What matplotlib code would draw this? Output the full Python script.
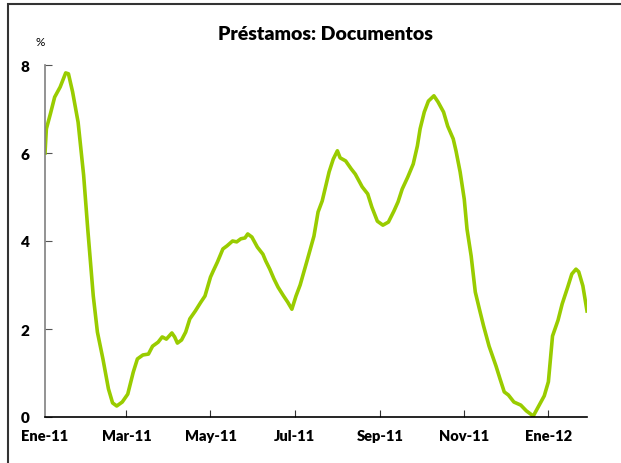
import matplotlib
matplotlib.use("Agg")
import matplotlib.pyplot as plt
import pandas as pd
from matplotlib.patches import Rectangle

fechas = [
    "2011-01-01", "2011-01-02", "2011-01-05", "2011-01-08", "2011-01-12", "2011-01-16",
    "2011-01-18", "2011-01-21", "2011-01-25", "2011-01-29", "2011-02-01", "2011-02-05",
    "2011-02-08", "2011-02-12", "2011-02-16", "2011-02-19", "2011-02-22", "2011-02-26",
    "2011-03-02", "2011-03-06", "2011-03-09", "2011-03-13", "2011-03-17", "2011-03-20",
    "2011-03-24", "2011-03-27", "2011-03-30", "2011-04-03", "2011-04-05", "2011-04-07",
    "2011-04-10", "2011-04-13", "2011-04-16", "2011-04-20", "2011-04-24", "2011-04-27",
    "2011-05-01", "2011-05-03", "2011-05-06", "2011-05-10", "2011-05-13", "2011-05-17",
    "2011-05-20", "2011-05-23", "2011-05-26", "2011-05-28", "2011-05-31", "2011-06-04",
    "2011-06-08", "2011-06-10", "2011-06-13", "2011-06-16", "2011-06-19", "2011-06-23",
    "2011-06-26", "2011-06-29", "2011-07-02", "2011-07-05", "2011-07-10", "2011-07-15",
    "2011-07-18", "2011-07-21", "2011-07-26", "2011-07-29", "2011-08-01", "2011-08-03",
    "2011-08-07", "2011-08-11", "2011-08-14", "2011-08-19", "2011-08-23", "2011-08-26",
    "2011-08-30", "2011-09-03", "2011-09-07", "2011-09-11", "2011-09-14", "2011-09-17",
    "2011-09-21", "2011-09-25", "2011-09-28", "2011-09-30", "2011-10-03", "2011-10-06",
    "2011-10-10", "2011-10-13", "2011-10-17", "2011-10-20", "2011-10-24", "2011-10-26",
    "2011-10-29", "2011-11-01", "2011-11-03", "2011-11-06", "2011-11-09", "2011-11-12",
    "2011-11-15", "2011-11-19", "2011-11-24", "2011-11-27", "2011-11-30", "2011-12-03",
    "2011-12-07", "2011-12-12", "2011-12-16", "2011-12-19", "2011-12-21", "2011-12-25",
    "2011-12-29", "2012-01-01", "2012-01-04", "2012-01-08", "2012-01-11", "2012-01-15",
    "2012-01-18", "2012-01-21", "2012-01-23", "2012-01-26", "2012-01-29",
]
valores = [
    6.0, 6.55, 6.9, 7.27, 7.5, 7.82,
    7.8, 7.39, 6.7, 5.5, 4.27, 2.75,
    1.93, 1.32, 0.64, 0.32, 0.25, 0.34,
    0.52, 1.02, 1.32, 1.41, 1.43, 1.61,
    1.70, 1.82, 1.77, 1.91, 1.82, 1.68,
    1.75, 1.93, 2.23, 2.41, 2.61, 2.75,
    3.18, 3.32, 3.52, 3.82, 3.89, 4.0,
    3.98, 4.05, 4.07, 4.16, 4.09, 3.86,
    3.7, 3.55, 3.36, 3.14, 2.95, 2.75,
    2.61, 2.45, 2.75, 3.0, 3.55, 4.11,
    4.66, 4.91, 5.57, 5.86, 6.05, 5.89,
    5.82, 5.64, 5.52, 5.23, 5.07, 4.77,
    4.45, 4.36, 4.43, 4.68, 4.89, 5.18,
    5.45, 5.75, 6.16, 6.55, 6.93, 7.18,
    7.3, 7.16, 6.93, 6.61, 6.32, 6.05,
    5.57, 4.95, 4.27, 3.66, 2.84, 2.45,
    2.07, 1.61, 1.16, 0.86, 0.57, 0.5,
    0.34, 0.27, 0.14, 0.07, 0.02, 0.25,
    0.48, 0.8, 1.84, 2.2, 2.57, 2.95,
    3.25, 3.36, 3.3, 2.98, 2.41,
]
etiquetas_x = ["Ene-11", "Mar-11", "May-11", "Jul-11", "Sep-11", "Nov-11", "Ene-12"]
ticks_x = ["2011-01-01", "2011-03-01", "2011-05-01", "2011-07-01",
           "2011-09-01", "2011-11-01", "2012-01-01"]
ticks_y = [0, 2, 4, 6, 8]

plt.rcParams["font.family"] = ["Lato", "DejaVu Sans"]

fig = plt.figure(figsize=(6.21, 4.64), dpi=100)
ax = fig.add_axes([45 / 621, 46 / 464, 542 / 621, 352 / 464])

x = pd.to_datetime(fechas)
ax.plot(x, valores, color="#99cc00", linewidth=2.6, solid_joinstyle="round")

ax.set_xlim(x[0], x[-1])
ax.set_ylim(0, 8)
ax.set_yticks(ticks_y)
ax.set_yticklabels([str(v) for v in ticks_y], fontweight="heavy", fontsize=11)
ax.set_xticks(pd.to_datetime(ticks_x))
ax.set_xticklabels(etiquetas_x, fontweight="heavy", fontsize=10.5)
ax.tick_params(axis="x", direction="in", length=5, pad=9, color="#333333")
ax.tick_params(axis="y", direction="in", length=5, pad=11, color="#555555")
# la primera marca del eje x no se ve en el original
ax.xaxis.get_major_ticks()[0].tick1line.set_visible(False)

for s in ["top", "right"]:
    ax.spines[s].set_visible(False)
ax.spines["left"].set_color("#808080")
ax.spines["left"].set_linewidth(1.2)
ax.spines["bottom"].set_color("black")
ax.spines["bottom"].set_linewidth(1.2)

fig.text(325 / 621, 1 - 35 / 464, "Préstamos: Documentos", ha="center", va="center",
         fontsize=14, fontweight="heavy")
fig.text(40 / 621, 1 - 42 / 464, "%", ha="center", va="center", fontsize=8.5)

# marco exterior (solo arriba e izquierda quedan dentro de la imagen)
fig.patches.append(Rectangle((8 / 621, -0.1), 1.2, 1.1 - 5 / 464,
                             transform=fig.transFigure, fill=False,
                             edgecolor="#333333", linewidth=1.5))

fig.savefig("out.png", dpi=100)
